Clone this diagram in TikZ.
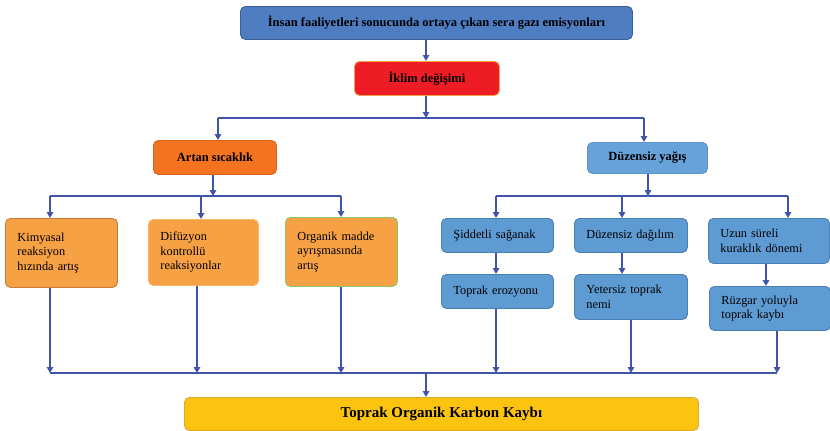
\documentclass[tikz,border=0pt]{standalone}
\usepackage{fontspec}
\setmainfont{Liberation Serif}
\usetikzlibrary{arrows.meta,calc}
\definecolor{lineblue}{HTML}{4155A8}
\definecolor{topblue}{HTML}{4F7DC2}
\definecolor{topborder}{HTML}{3A5E98}
\definecolor{redfill}{HTML}{EE1D25}
\definecolor{redborder}{HTML}{F5A04A}
\definecolor{darkorange}{HTML}{F37321}
\definecolor{darkorangeb}{HTML}{D9651C}
\definecolor{lightblue}{HTML}{67A3D9}
\definecolor{lightblueb}{HTML}{5A94C8}
\definecolor{orangefill}{HTML}{F7A145}
\definecolor{orangeb1}{HTML}{C9793A}
\definecolor{orangeb2}{HTML}{F9B46A}
\definecolor{greenb}{HTML}{8CC46A}
\definecolor{bluefill}{HTML}{5E9BD3}
\definecolor{blueb}{HTML}{4B80B5}
\definecolor{yellowfill}{HTML}{FDC40F}
\definecolor{yellowb}{HTML}{D9A831}
\tikzset{
  basebox/.style={rectangle, rounded corners=5pt, line width=0.9pt, anchor=north west, inner ysep=0pt},
  headbox/.style={basebox, align=center, font=\bfseries\fontsize{12.5}{14}\selectfont},
  txtbox/.style={basebox, align=left, inner xsep=12pt, font=\fontsize{12.3}{14.5}\selectfont},
  obox/.style={txtbox, fill=orangefill},
  bbox/.style={txtbox, fill=bluefill, draw=blueb},
  conn/.style={draw=lineblue, line width=1.8pt},
  arr/.style={conn, -{Triangle[width=6.5pt,length=6pt]}}
}
\begin{document}
\begin{tikzpicture}[x=1pt,y=-1pt]
\useasboundingbox (0,0) rectangle (830,431);
% heads
\node[headbox, fill=topblue, draw=topborder, minimum width=392pt, minimum height=33pt] (top) at (240,6) {İnsan faaliyetleri sonucunda ortaya çıkan sera gazı emisyonları};
\node[headbox, fill=redfill, draw=redborder, minimum width=145pt, minimum height=34pt] (ikl) at (354,61) {İklim değişimi};
\node[headbox, fill=darkorange, draw=darkorangeb, minimum width=123pt, minimum height=34pt] (artan) at (153,140) {Artan sıcaklık};
\node[headbox, fill=lightblue, draw=lightblueb, minimum width=120pt, minimum height=31pt] (yag) at (587,142) {Düzensiz yağış};
% orange boxes
\node[obox, draw=orangeb1, text width=88pt, minimum width=112pt, minimum height=69pt] (k1) at (5,218) {Kimyasal\\reaksiyon\\hızında artış};
\node[obox, draw=orangeb2, text width=86pt, minimum width=110pt, minimum height=66pt] (k2) at (148,219) {Difüzyon\\kontrollü\\reaksiyonlar};
\node[obox, draw=greenb, text width=88pt, minimum width=112pt, minimum height=69pt] (k3) at (285,217) {Organik madde\\ayrışmasında\\artış};
% blue boxes
\node[bbox, text width=88pt, minimum width=112pt, minimum height=34pt] (b1) at (441,218) {Şiddetli sağanak};
\node[bbox, text width=88pt, minimum width=112pt, minimum height=34pt] (b2) at (441,274) {Toprak erozyonu};
\node[bbox, text width=89pt, minimum width=113pt, minimum height=34pt] (b3) at (574,218) {Düzensiz dağılım};
\node[bbox, text width=89pt, minimum width=113pt, minimum height=45pt] (b4) at (574,274) {Yetersiz toprak\\nemi};
\node[bbox, text width=97pt, minimum width=121pt, minimum height=45pt] (b5) at (708,218) {Uzun süreli\\kuraklık dönemi};
\node[bbox, text width=97pt, minimum width=121pt, minimum height=44pt] (b6) at (709,286) {Rüzgar yoluyla\\toprak kaybı};
% bottom
\node[basebox, fill=yellowfill, draw=yellowb, minimum width=514pt, minimum height=33pt, font=\bfseries\fontsize{15}{17}\selectfont] (res) at (184,397) {Toprak Organik Karbon Kaybı};
% coordinates
\coordinate (s0) at (426,118);
\coordinate (sl) at (218,118);
\coordinate (sr) at (644,118);
\coordinate (l0) at (213,196);
\coordinate (ll) at (50,196);
\coordinate (lr) at (341,196);
\coordinate (r0) at (648,196);
\coordinate (rl) at (496,196);
\coordinate (rm) at (622,196);
\coordinate (rr) at (788,196);
\coordinate (m0) at (426,373);
\coordinate (ml) at (50,373);
\coordinate (mr) at (777,373);
% connectors
\draw[arr] (top.south -| s0) -- (ikl.north -| s0);
\draw[arr] (ikl.south -| s0) -- (s0);
\draw[conn] (sl) -- (sr);
\draw[arr] (sl) -- (sl |- artan.north);
\draw[arr] (sr) -- (sr |- yag.north);
\draw[arr] (artan.south -| l0) -- (l0);
\draw[conn] (ll) -- (lr);
\draw[arr] (ll) -- (ll |- k1.north);
\draw[arr] (l0 -| 201,0) -- (k2.north -| 201,0);
\draw[arr] (lr) -- (lr |- k3.north);
\draw[arr] (yag.south -| r0) -- (r0);
\draw[conn] (rl) -- (rr);
\draw[arr] (rl) -- (rl |- b1.north);
\draw[arr] (rm) -- (rm |- b3.north);
\draw[arr] (rr) -- (rr |- b5.north);
\draw[arr] (b1.south -| rl) -- (b2.north -| rl);
\draw[arr] (b3.south -| rm) -- (b4.north -| rm);
\draw[arr] (b5.south -| 766,0) -- (b6.north -| 766,0);
\draw[conn] (ml) -- (mr);
\draw[arr] (k1.south -| ml) -- (ml);
\draw[arr] (k2.south -| 197,0) -- (m0 -| 197,0);
\draw[arr] (k3.south -| 341,0) -- (m0 -| 341,0);
\draw[arr] (b2.south -| rl) -- (m0 -| rl);
\draw[arr] (b4.south -| 631,0) -- (m0 -| 631,0);
\draw[arr] (b6.south -| mr) -- (mr);
\draw[arr] (m0) -- (res.north -| m0);
\end{tikzpicture}
\end{document}
